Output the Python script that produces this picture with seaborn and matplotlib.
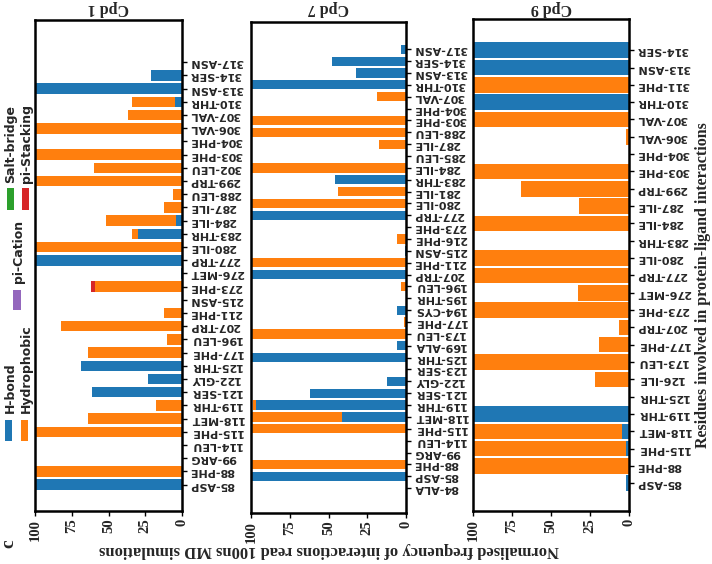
import matplotlib
matplotlib.use("Agg")
import matplotlib.pyplot as plt
from matplotlib.patches import Rectangle
import pandas as pd
import seaborn as sns

# ---- data (bottom -> top as shown in the picture) ----
cpd1_residues = ["85-ASP", "88-PHE", "99-ARG", "114-LEU", "115-PHE", "118-MET", "119-THR",
                 "121-SER", "122-GLY", "125-THR", "177-PHE", "196-LEU", "207-TRP", "211-PHE",
                 "215-ASN", "273-PHE", "276-MET", "277-TRP", "280-ILE", "283-THR", "284-ILE",
                 "287-ILE", "288-LEU", "299-TRP", "302-LEU", "303-PHE", "304-PHE", "306-VAL",
                 "307-VAL", "310-THR", "313-ASN", "314-SER", "317-ASN"]
cpd1_hbond = [100, 0, 0, 0, 0, 0, 0, 61, 23, 69, 0, 0, 0, 0, 0, 0, 1, 100, 0, 30, 4,
              0, 0, 0, 0, 0, 0, 0, 0, 4.5, 100, 21, 0]
cpd1_hydrophobic = [0, 100, 0, 0, 100, 64, 18, 0, 0, 0, 64, 10.5, 82, 12, 0, 59, 0, 0, 100, 4, 48,
                    12, 6, 100, 60, 100, 0, 100, 37, 29.5, 0, 0, 0]
cpd1_pistacking = [0, 0, 0, 0, 0, 0, 0, 0, 0, 0, 0, 0, 0, 0, 0, 3, 0, 0, 0, 0, 0,
                   0, 0, 0, 0, 0, 0, 0, 0, 0, 0, 0, 0]

cpd7_residues = ["84-ALA", "85-ASP", "88-PHE", "99-ARG", "114-LEU", "115-PHE", "118-MET",
                 "119-THR", "121-SER", "122-GLY", "123-SER", "125-THR", "169-ALA", "173-LEU",
                 "177-PHE", "194-CYS", "195-THR", "196-LEU", "207-TRP", "211-PHE", "215-ASN",
                 "216-PHE", "273-PHE", "277-TRP", "280-ILE", "281-ILE", "283-THR", "284-ILE",
                 "285-LEU", "287-ILE", "288-LEU", "303-PHE", "304-PHE", "307-VAL", "310-THR",
                 "313-ASN", "314-SER", "317-ASN"]
cpd7_hbond = [0, 100, 0, 0, 0, 0, 41, 97, 62, 12, 0, 100, 6, 0, 0, 6, 0, 0, 100, 0, 0.5,
              0, 0, 100, 0, 0, 46, 0, 0, 0, 0, 0, 0, 0, 100, 32, 48, 3]
cpd7_hydrophobic = [0, 0, 100, 0, 0, 100, 59, 2, 0, 0, 0, 0, 0, 100, 1, 0, 0, 3.5, 0, 100, 0,
                    6, 0, 0, 100, 44, 0, 100, 0, 17.5, 100, 100, 0, 19, 0, 0, 0, 0]
cpd7_pistacking = [0] * len(cpd7_residues)

cpd9_residues = ["85-ASP", "88-PHE", "115-PHE", "118-MET", "119-THR", "125-THR", "126-ILE",
                 "173-LEU", "177-PHE", "207-TRP", "273-PHE", "276-MET", "277-TRP", "280-ILE",
                 "283-THR", "284-ILE", "287-ILE", "299-TRP", "303-PHE", "304-PHE", "306-VAL",
                 "307-VAL", "310-THR", "311-PHE", "313-ASN", "314-SER"]
cpd9_hbond = [2, 0, 1.7, 4.3, 100, 0, 0, 0, 0, 0, 0, 0, 0, 0, 0, 0, 0, 0, 0, 0, 0,
              0, 100, 0, 100, 100]
cpd9_hydrophobic = [0, 100, 98.3, 95.7, 0, 0, 21.5, 100, 19, 6.5, 100, 33, 100, 100, 0, 100, 32,
                    69, 100, 0, 2, 100, 0, 100, 0, 0]
cpd9_pistacking = [0] * len(cpd9_residues)

titles = ["Cpd 1", "Cpd 7", "Cpd 9"]
legend_names = ["H-bond", "Hydrophobic", "pi-Cation", "Salt-bridge", "pi-Stacking"]

BLUE, ORANGE, PURPLE, GREEN, RED = "#1f77b4", "#ff7f0e", "#9467bd", "#2ca02c", "#d62728"
W, H = 712, 564

sns.set_theme(style="white")
plt.rcParams["font.family"] = ["DejaVu Sans"]
SERIF = ["Liberation Serif", "DejaVu Serif"]

fig = plt.figure(figsize=(W / 100, H / 100), dpi=100)


def px_axes(x0, x1, y0, y1):
    return fig.add_axes([x0 / W, 1 - y1 / H, (x1 - x0) / W, (y1 - y0) / H])


panels = [
    (cpd1_residues, cpd1_hbond, cpd1_hydrophobic, cpd1_pistacking, (35, 182, 20, 511), 2.0, 3.2, 0.8),
    (cpd7_residues, cpd7_hbond, cpd7_hydrophobic, cpd7_pistacking, (251, 406, 22, 513), 2.1, 2.3, 0.78),
    (cpd9_residues, cpd9_hbond, cpd9_hydrophobic, cpd9_pistacking, (473, 629, 19, 511), 1.6, 1.8, 0.9),
]

for (res, hb, hy, ps, box, pad_bot, pad_top, bw), title in zip(panels, titles):
    ax = px_axes(*box)
    df = pd.DataFrame({"residue": res, "hbond": hb, "hydro": hy, "pistack": ps})
    df["c1"] = df["hbond"]
    df["c2"] = df["c1"] + df["hydro"]
    df["c3"] = df["c2"] + df["pistack"]
    order = res[::-1]
    for col, colr in [("c3", RED), ("c2", ORANGE), ("c1", BLUE)]:
        sns.barplot(data=df, x=col, y="residue", order=order, orient="h", color=colr,
                    saturation=1, errorbar=None, width=bw, linewidth=0, ax=ax)
    n = len(res)
    ax.set_ylim(n - 1 + pad_bot, -pad_top)
    ax.set_xlim(100, 0)
    ax.set_xticks([0, 25, 50, 75, 100])
    ax.set_xlabel("")
    ax.set_ylabel("")
    ax.yaxis.tick_right()
    ax.tick_params(axis="y", right=True, left=False, length=3.5, width=1, color="black", pad=2,
                   labelsize=8)
    ax.tick_params(axis="x", bottom=True, length=3.5, width=1, color="black", pad=2,
                   labelrotation=90)
    for lbl in ax.get_yticklabels():
        lbl.set_rotation(180)
        lbl.set_rotation_mode("anchor")
        lbl.set_horizontalalignment("right")
        lbl.set_verticalalignment("center")
        lbl.set_fontweight("bold")
    for lbl in ax.get_xticklabels():
        lbl.set_family(SERIF)
        lbl.set_fontweight("bold")
        lbl.set_fontsize(10.5)
    for sp in ax.spines.values():
        sp.set_visible(True)
        sp.set_color("black")
        sp.set_linewidth(1.8)
    fig.text((box[0] + box[1]) / 2 / W, 1 - 8.5 / H, title, rotation=180, ha="center",
             va="center", family=SERIF, fontweight="bold", fontsize=11.5)

# axis titles (figure is shown rotated)
fig.text(329 / W, 1 - 550 / H, "Normalised frequency of interactions read 100ns MD simulations",
         rotation=180, ha="center", va="center", family=SERIF, fontweight="bold", fontsize=12)
fig.text(703 / W, 1 - 285 / H, "Residues involved in protein-ligand interactions",
         rotation=90, ha="center", va="center", family=SERIF, fontweight="bold", fontsize=11.5)
fig.text(9 / W, 1 - 544 / H, "c", rotation=90, ha="center", va="center",
         family=SERIF, fontweight="bold", fontsize=14)

# legend drawn by hand, rotated
legend_items = [
    (legend_names[0], BLUE, (5, 12, 420, 441), (10, 413)),
    (legend_names[1], ORANGE, (21, 28, 420, 441), (26, 413)),
    (legend_names[2], PURPLE, (13, 21, 290, 310), (18, 283)),
    (legend_names[3], GREEN, (7, 14, 188, 210), (11, 183)),
    (legend_names[4], RED, (22, 29, 188, 210), (27, 183)),
]
for name, colr, (x0, x1, y0, y1), (tx, ty) in legend_items:
    fig.patches.append(Rectangle((x0 / W, 1 - y1 / H), (x1 - x0) / W, (y1 - y0) / H,
                                 transform=fig.transFigure, facecolor=colr, edgecolor="none"))
    fig.text(tx / W, 1 - ty / H, name, rotation=90, ha="center", va="bottom",
             fontsize=9, fontweight="bold")

fig.savefig("out.png", dpi=100)
